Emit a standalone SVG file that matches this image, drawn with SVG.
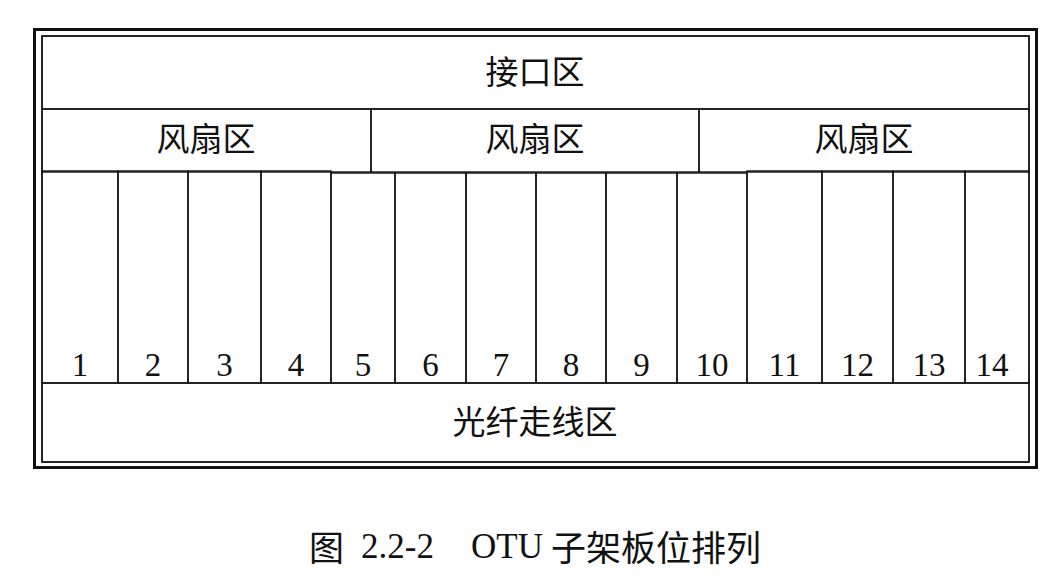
<svg xmlns="http://www.w3.org/2000/svg" width="1059" height="576" viewBox="0 0 1059 576">
<style>
.box{fill:none;stroke:#111;stroke-width:1.4}
.frame{fill:none;stroke:#111;stroke-width:3}
.cjk{font-family:"Noto Sans CJK SC","Noto Sans CJK TC",sans-serif;font-size:33px;fill:#111;text-anchor:middle}
.num{font-family:"Liberation Serif",serif;font-size:33px;fill:#111;text-anchor:middle}
.cap{font-family:"Liberation Serif","Noto Sans CJK SC",serif;font-size:35px;fill:#111}
.capc{font-family:"Noto Sans CJK SC",sans-serif;font-size:35px;fill:#111}
</style>
<rect width="1059" height="576" fill="#fff"/>
<g id="frame">
<rect class="frame" x="34.5" y="29.5" width="1002" height="438"/>
<rect class="box" x="42" y="36" width="987" height="426"/>
</g>
<g id="interface">
<rect class="box" x="42" y="36" width="987" height="73"/>
<text class="cjk" x="535" y="84">接口区</text>
</g>
<g id="fan1">
<rect class="box" x="42" y="109" width="329" height="63"/>
<text class="cjk" x="206" y="151">风扇区</text>
</g>
<g id="fan2">
<rect class="box" x="371" y="109" width="328" height="63"/>
<text class="cjk" x="535" y="151">风扇区</text>
</g>
<g id="fan3">
<rect class="box" x="699" y="109" width="330" height="63"/>
<text class="cjk" x="864" y="151">风扇区</text>
</g>
<g id="slot1"><rect class="box" x="42" y="171" width="76" height="212"/><text class="num" x="80" y="376">1</text></g>
<g id="slot2"><rect class="box" x="118" y="171" width="70" height="212"/><text class="num" x="153" y="376">2</text></g>
<g id="slot3"><rect class="box" x="188" y="171" width="73" height="212"/><text class="num" x="224.5" y="376">3</text></g>
<g id="slot4"><rect class="box" x="261" y="171" width="70" height="212"/><text class="num" x="296" y="376">4</text></g>
<g id="slot5"><rect class="box" x="331" y="173" width="64" height="210"/><text class="num" x="363" y="376">5</text></g>
<g id="slot6"><rect class="box" x="395" y="173" width="71" height="210"/><text class="num" x="430.5" y="376">6</text></g>
<g id="slot7"><rect class="box" x="466" y="173" width="70" height="210"/><text class="num" x="501" y="376">7</text></g>
<g id="slot8"><rect class="box" x="536" y="173" width="70" height="210"/><text class="num" x="571" y="376">8</text></g>
<g id="slot9"><rect class="box" x="606" y="173" width="71" height="210"/><text class="num" x="641.5" y="376">9</text></g>
<g id="slot10"><rect class="box" x="677" y="173" width="70" height="210"/><text class="num" x="712" y="376">10</text></g>
<g id="slot11"><rect class="box" x="747" y="171" width="75" height="212"/><text class="num" x="784.5" y="376">11</text></g>
<g id="slot12"><rect class="box" x="822" y="171" width="71" height="212"/><text class="num" x="857.5" y="376">12</text></g>
<g id="slot13"><rect class="box" x="893" y="171" width="72" height="212"/><text class="num" x="929" y="376">13</text></g>
<g id="slot14"><rect class="box" x="965" y="171" width="64" height="212"/><text class="num" x="992" y="376">14</text></g>
<g id="fiber">
<rect class="box" x="42" y="383" width="987" height="79"/>
<text class="cjk" x="535" y="434">光纤走线区</text>
</g>
<g id="caption">
<text class="capc" x="309" y="561">图</text>
<text class="cap" x="361" y="558">2.2-2</text>
<text class="cap" x="471" y="558">OTU</text>
<text class="capc" x="551" y="561">子架板位排列</text>
</g>
</svg>
